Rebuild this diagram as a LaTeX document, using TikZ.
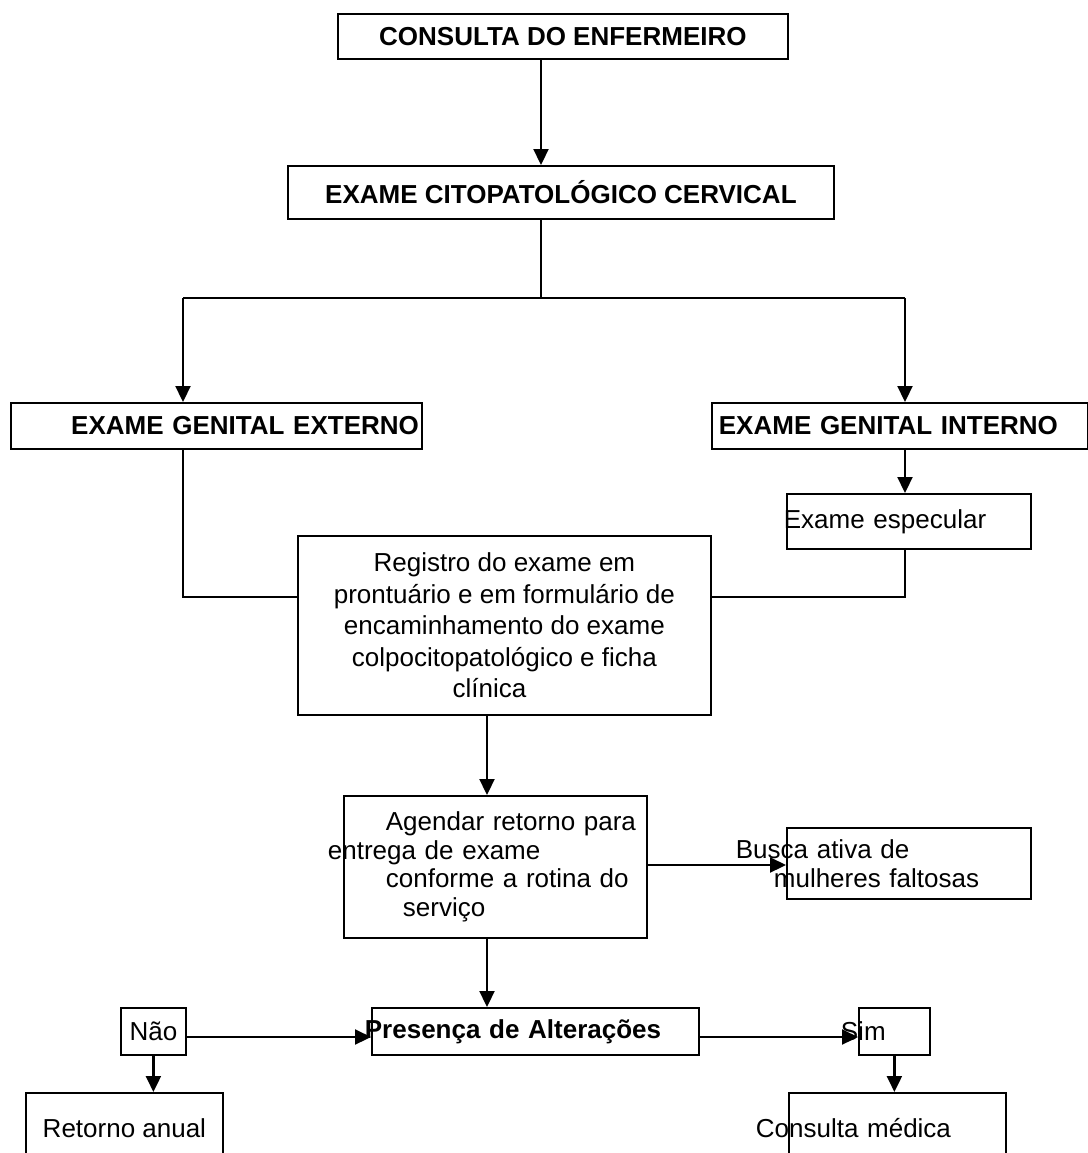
\documentclass[tikz,border=0pt]{standalone}
\usepackage{fontspec}
\setmainfont{Liberation Sans}
\usetikzlibrary{arrows.meta}
\begin{document}
\begin{tikzpicture}[x=0.5pt,y=-0.5pt,
  every node/.style={font=\fontsize{13}{15.75}\selectfont},
  box/.style={draw,line width=0.9pt,anchor=north west,inner sep=2pt},
  hd/.style={font=\fontsize{13}{15.75}\selectfont\bfseries},
  flush/.style={inner xsep=0pt,align=left,text width=#1,minimum width=#1},
  arr/.style={line width=1.1pt,-{Triangle[length=8pt,width=7.5pt]}},
  lne/.style={line width=1.1pt}]
\useasboundingbox (0,0) rectangle (1088,1153);
\clip (0,0) rectangle (1088,1153);
\node[box,hd,minimum width=225pt,minimum height=22.5pt] (consulta) at (337,13) {CONSULTA DO ENFERMEIRO};
\node[box,hd,minimum width=273pt,minimum height=26.5pt] (citopat) at (287,165) {EXAME CITOPATOL\'OGICO CERVICAL};
\node[box,hd,minimum height=23pt,minimum width=205.5pt,text width=202.5pt,inner xsep=1.5pt,align=right] (externo) at (10,402) {EXAME GENITAL EXTERNO};
\node[box,hd,minimum height=23pt,minimum width=188pt,text width=181pt,inner xsep=3.5pt,align=left] (interno) at (711,402) {EXAME GENITAL INTERNO};
\node[box,flush=122pt,minimum height=27.5pt] (especular) at (786,493) {\hspace*{-1.5pt}Exame especular};
\node[box,align=center,minimum width=206.5pt,minimum height=89.5pt] (registro) at (297,535) {Registro do exame em\\prontu\'ario e em formul\'ario de\\encaminhamento do exame\\colpocitopatol\'ogico e ficha\\cl\'inica\hspace*{15pt}};
\node[box,flush=151.5pt,minimum height=71pt,font=\fontsize{13}{14.2}\selectfont] (agendar) at (343,795) {\hspace*{21pt}\mbox{Agendar retorno para}\\\hspace*{-8pt}\mbox{entrega de exame}\\\hspace*{21pt}\mbox{conforme a rotina do}\\\hspace*{29.5pt}servi\c{c}o};
\node[box,flush=122pt,minimum height=35.5pt,font=\fontsize{13}{14.5}\selectfont] (busca) at (786,827) {\hspace*{-25.5pt}\mbox{Busca ativa de}\\\hspace*{-6.5pt}\mbox{mulheres faltosas}};
\node[box,hd,flush=163.5pt,minimum height=23.5pt] (presenca) at (371,1007) {\hspace*{-3.5pt}\mbox{Presen\c{c}a de Altera\c{c}\~oes}};
\node[box,minimum width=32.5pt,minimum height=23.5pt] (nao) at (120,1007) {N\~ao};
\node[box,flush=35.5pt,minimum height=23.5pt] (sim) at (858,1007) {\hspace*{-9pt}Sim};
\node[box,minimum width=98.5pt,minimum height=35pt] (retorno) at (25,1092) {Retorno anual};
\node[box,flush=108.5pt,minimum height=35pt] (medica) at (788,1092) {\hspace*{-16.5pt}\mbox{Consulta m\'edica}};
\coordinate (ax) at (541,0);
\coordinate (split) at (541,298);
\coordinate (lcol) at (183,298);
\coordinate (rcol) at (905,298);
\coordinate (jrow) at (0,597);
\coordinate (mcol) at (487,0);
\coordinate (brow) at (0,865);
\coordinate (crow) at (0,1037);
\draw[arr] (consulta.south -| ax) -- (citopat.north -| ax);
\draw[lne] (citopat.south -| split) -- (split);
\draw[lne] (lcol) -- (rcol);
\draw[arr] (lcol) -- (lcol |- externo.north);
\draw[arr] (rcol) -- (rcol |- interno.north);
\draw[arr] (rcol |- interno.south) -- (rcol |- especular.north);
\draw[lne] (rcol |- especular.south) |- (registro.east |- jrow);
\draw[lne] (lcol |- externo.south) |- (registro.west |- jrow);
\draw[arr] (registro.south -| mcol) -- (agendar.north -| mcol);
\draw[arr] (agendar.east |- brow) -- (busca.west |- brow);
\draw[arr] (agendar.south -| mcol) -- (presenca.north -| mcol);
\draw[arr] (nao.east |- crow) -- (presenca.west |- crow);
\draw[arr] (presenca.east |- crow) -- (sim.west |- crow);
\draw[arr] (nao.south) -- (nao.south |- retorno.north);
\draw[arr] (sim.south) -- (sim.south |- medica.north);
\end{tikzpicture}
\end{document}
